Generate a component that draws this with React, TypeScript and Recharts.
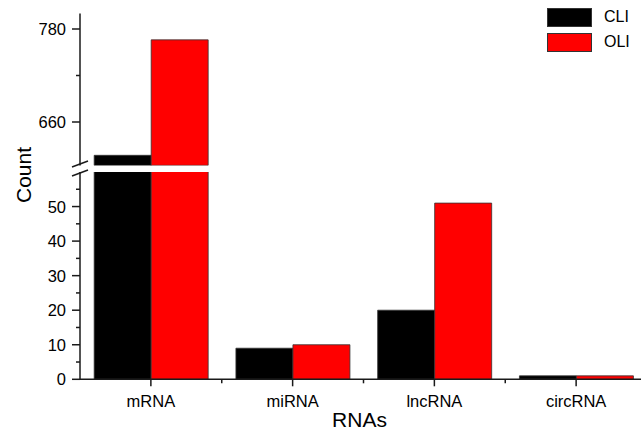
import React from 'react';
import { BarChart, Bar, XAxis, YAxis } from 'recharts';

const CATEGORIES = ['mRNA', 'miRNA', 'lncRNA', 'circRNA'];
const CLI = [617, 9, 20, 1];
const OLI = [766, 10, 51, 1];

const SERIES = ['CLI', 'OLI'];
const COLORS = ['#000000', '#ff0000'];

const UPPER_DOMAIN = [604, 800];
const UPPER_TICKS = [660, 720, 780];
const UPPER_LABELS = [660, 780];

const LOWER_DOMAIN = [0, 60];
const LOWER_TICKS = [0, 5, 10, 15, 20, 25, 30, 35, 40, 45, 50, 55];
const LOWER_LABELS = [0, 10, 20, 30, 40, 50];

const CHART_W = 647;
const Y_W = 80;
const STEP = (CHART_W - Y_W) / CATEGORIES.length;
const TICK_SIZE = 8;
const INK = '#1a1a1a';
const FONT = '"Liberation Sans", Arial, sans-serif';

const data = CATEGORIES.map((name, i) => ({ name, CLI: CLI[i], OLI: OLI[i] }));
const upperData = CATEGORIES.map((name, i) => ({
  name,
  CLI: CLI[i] >= UPPER_DOMAIN[0] ? CLI[i] : null,
  OLI: OLI[i] >= UPPER_DOMAIN[0] ? OLI[i] : null,
}));

const makeYTick = (labels: number[]) => (props: any) => {
  const { x, y, payload } = props;
  const ax = x + TICK_SIZE;
  const major = labels.indexOf(Number(payload.value)) >= 0;
  return (
    <g>
      <line x1={ax - (major ? 8 : 4)} x2={ax} y1={y} y2={y} stroke={INK} strokeWidth={1.5} />
      {major && (
        <text x={ax - 14} y={y} textAnchor="end" dominantBaseline="central" fontSize={16.5} fill="#000" fontFamily={FONT}>
          {payload.value}
        </text>
      )}
    </g>
  );
};
const upperTick = makeYTick(UPPER_LABELS);
const lowerTick = makeYTick(LOWER_LABELS);

function XTick(props: any) {
  const { x, y, payload, index } = props;
  const ay = y - TICK_SIZE;
  return (
    <g>
      <line x1={x} x2={x} y1={ay} y2={ay + 7} stroke={INK} strokeWidth={1.5} />
      {index > 0 && (
        <line x1={x - STEP / 2} x2={x - STEP / 2} y1={ay} y2={ay + 4} stroke={INK} strokeWidth={1.5} />
      )}
      <text x={x} y={ay + 27.7} textAnchor="middle" fontSize={16.5} fill="#000" fontFamily={FONT}>
        {payload.value}
      </text>
    </g>
  );
}

export default function App() {
  return (
    <div style={{ position: 'absolute', left: 0, top: 0, width: 641, height: 431, overflow: 'hidden', background: '#fff', fontFamily: FONT }}>
      <div style={{ position: 'absolute', left: 0, top: 0 }}>
        <BarChart width={CHART_W} height={168} data={upperData} margin={{ top: 13.5, right: 0, left: 0, bottom: 2.6 }} barCategoryGap="10%" barGap={0}>
          <XAxis dataKey="name" hide height={0} />
          <YAxis
            width={Y_W}
            domain={UPPER_DOMAIN}
            ticks={UPPER_TICKS}
            interval={0}
            allowDataOverflow
            tickSize={TICK_SIZE}
            tickMargin={0}
            tickLine={false}
            axisLine={{ stroke: INK, strokeWidth: 1.5 }}
            tick={upperTick}
          />
          {SERIES.map((s, i) => (
            <Bar key={s} dataKey={s} name={s} fill={COLORS[i]} stroke="#333" strokeWidth={0.8} isAnimationActive={false} />
          ))}
        </BarChart>
      </div>
      <div style={{ position: 'absolute', left: 0, top: 165 }}>
        <BarChart width={CHART_W} height={266} data={data} margin={{ top: 7, right: 0, left: 0, bottom: 1.7 }} barCategoryGap="10%" barGap={0}>
          <XAxis
            dataKey="name"
            height={50}
            interval={0}
            tickSize={TICK_SIZE}
            tickMargin={0}
            tickLine={false}
            axisLine={{ stroke: INK, strokeWidth: 1.5 }}
            tick={XTick}
          />
          <YAxis
            width={Y_W}
            domain={LOWER_DOMAIN}
            ticks={LOWER_TICKS}
            interval={0}
            allowDataOverflow
            tickSize={TICK_SIZE}
            tickMargin={0}
            tickLine={false}
            axisLine={{ stroke: INK, strokeWidth: 1.5 }}
            tick={lowerTick}
          />
          {SERIES.map((s, i) => (
            <Bar key={s} dataKey={s} name={s} fill={COLORS[i]} stroke="#333" strokeWidth={0.8} isAnimationActive={false} />
          ))}
        </BarChart>
      </div>
      <div style={{ position: 'absolute', left: 547, top: 4.5, fontFamily: FONT }}>
        {SERIES.map((s, i) => (
          <div key={s} style={{ display: 'flex', alignItems: 'center', height: 25 }}>
            <div style={{ width: 43, height: 17, background: COLORS[i], border: '0.5px solid #333' }} />
            <span style={{ marginLeft: 12, fontSize: 16, color: '#000' }}>{s}</span>
          </div>
        ))}
      </div>
      <svg width={641} height={431} style={{ position: 'absolute', left: 0, top: 0, pointerEvents: 'none' }}>
        <text x={23} y={175} transform="rotate(-90 23 175)" textAnchor="middle" dominantBaseline="central" fontSize={21} fill="#000" fontFamily={FONT}>
          Count
        </text>
        <text x={359.5} y={427} textAnchor="middle" fontSize={21} fill="#000" fontFamily={FONT}>
          RNAs
        </text>
        <line x1={72} y1={167} x2={88} y2={161} stroke={INK} strokeWidth={1.5} />
        <line x1={72} y1={176} x2={88} y2={170} stroke={INK} strokeWidth={1.5} />
      </svg>
    </div>
  );
}
